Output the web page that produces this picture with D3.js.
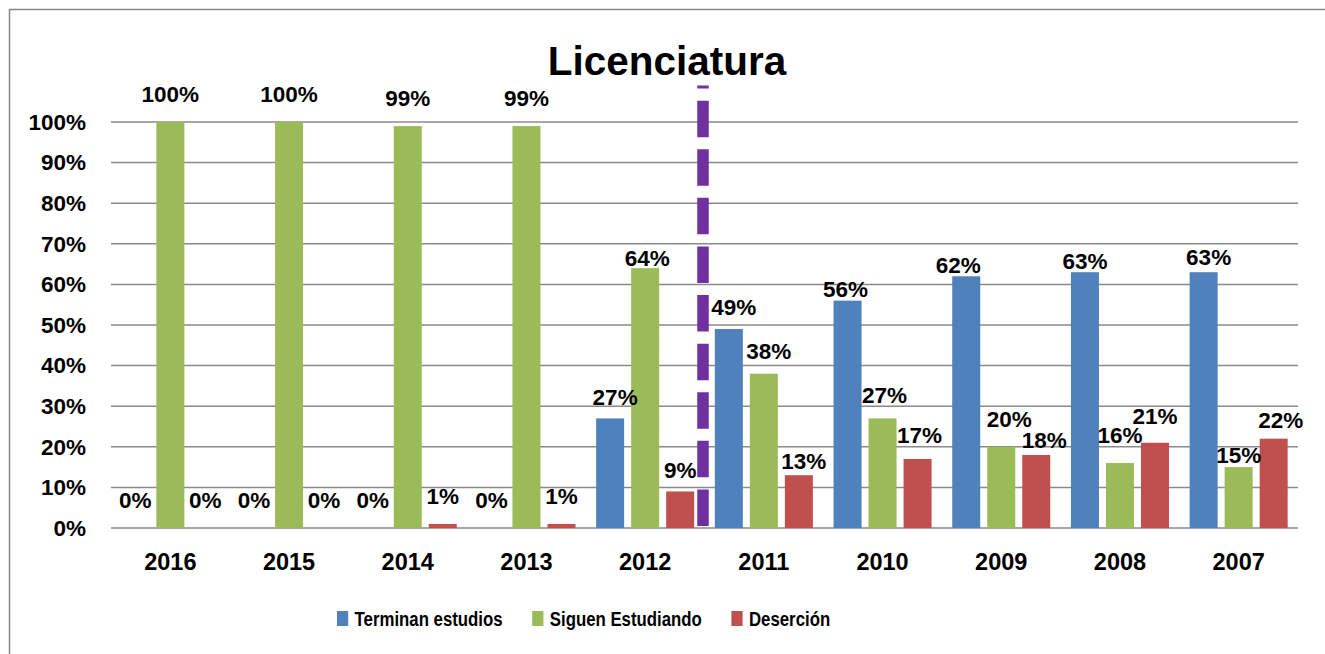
<!DOCTYPE html>
<html>
<head>
<meta charset="utf-8">
<script src="https://d3js.org/d3.v7.min.js"></script>
<style>
  body { margin: 0; background: #fff; }
  text { font-family: "Liberation Sans", Arial, sans-serif; font-weight: bold; fill: #000; }
</style>
</head>
<body>
<div id="chart"></div>
<script>
// data
var years = ["2016", "2015", "2014", "2013", "2012", "2011", "2010", "2009", "2008", "2007"];
var series = ["Terminan estudios", "Siguen Estudiando", "Deserción"];
var terminan = [0, 0, 0, 0, 27, 49, 56, 62, 63, 63];
var siguen = [100, 100, 99, 99, 64, 38, 27, 20, 16, 15];
var desercion = [0, 0, 1, 1, 9, 13, 17, 18, 21, 22];
var yTicks = [0, 10, 20, 30, 40, 50, 60, 70, 80, 90, 100];
var colors = ["#4F81BD", "#9BBB59", "#C0504D"];

// hand-placed label offsets in the original (dx, dy)
var nudge = [
  [[0,0],[0,0],[0,0],[0,0],[5,7],[5,6],[-2,16],[-8,17],[0,17],[5,13]],
  [[0,0],[0,0],[0,0],[0,0],[2,18],[5,5],[2,5],[8,0],[0,0],[0,16]],
  [[0,0],[0,0],[0,0],[0,0],[0,7],[5,14],[2,4],[8,13],[0,1],[7,9]]
];

var width = 1325, height = 654;
var svg = d3.select("#chart").append("svg")
  .attr("width", width)
  .attr("height", height);

// chart frame (runs off the right and bottom edge)
svg.append("rect")
  .attr("x", 9.5).attr("y", 9.5)
  .attr("width", 1330).attr("height", 660)
  .attr("fill", "none")
  .attr("stroke", "#888").attr("stroke-width", 1.5);

var x0 = d3.scaleBand().domain(years).range([111, 1298])
  .paddingInner(0.174).paddingOuter(0.087);
var x1 = d3.scaleBand().domain(series).range([0, x0.bandwidth()])
  .paddingInner(0.2).paddingOuter(0);
var y = d3.scaleLinear().domain([0, 100]).range([528, 122]);

// gridlines
svg.append("g").selectAll("line")
  .data(yTicks).enter().append("line")
  .attr("x1", 111).attr("x2", 1298)
  .attr("y1", function(d) { return y(d); })
  .attr("y2", function(d) { return y(d); })
  .attr("stroke", "#8a8a8a").attr("stroke-width", 1.5);

// y axis labels
var yAxis = svg.append("g")
  .attr("transform", "translate(111,0)")
  .call(d3.axisLeft(y).tickValues(yTicks).tickSize(0).tickPadding(25)
    .tickFormat(function(d) { return d + "%"; }));
yAxis.select(".domain").remove();
yAxis.selectAll("text")
  .attr("font-size", "22.5px")
  .style("font-family", "'Liberation Sans', Arial, sans-serif")
  .style("font-weight", "bold")
  .attr("fill", "#000");

// x axis labels
var xAxis = svg.append("g")
  .attr("transform", "translate(0,528)")
  .call(d3.axisBottom(x0).tickSize(0).tickPadding(25));
xAxis.select(".domain").remove();
xAxis.selectAll("text")
  .attr("font-size", "23.5px")
  .style("font-family", "'Liberation Sans', Arial, sans-serif")
  .style("font-weight", "bold")
  .attr("fill", "#000");

var seriesValues = [terminan, siguen, desercion];
var rows = [];
seriesValues.forEach(function(vals, si) {
  vals.forEach(function(v, i) {
    rows.push({ s: si, year: years[i], i: i, v: v });
  });
});

// bars
svg.append("g").selectAll("rect")
  .data(rows).enter().append("rect")
  .attr("x", function(d) { return x0(d.year) + x1(series[d.s]); })
  .attr("y", function(d) { return y(d.v); })
  .attr("width", x1.bandwidth())
  .attr("height", function(d) { return y(0) - y(d.v); })
  .attr("fill", function(d) { return colors[d.s]; });

// data labels
svg.append("g").selectAll("text")
  .data(rows).enter().append("text")
  .attr("x", function(d) { return x0(d.year) + x1(series[d.s]) + x1.bandwidth() / 2 + nudge[d.s][d.i][0]; })
  .attr("y", function(d) { return y(d.v) - 20 + nudge[d.s][d.i][1]; })
  .attr("text-anchor", "middle")
  .attr("font-size", "22.5px")
  .text(function(d) { return d.v + "%"; });

// dashed divider between 2012 and 2011, drawn from the bottom up
var divX = x0("2011") - x0.step() * x0.paddingInner() / 2 - 1.5;
svg.append("line")
  .attr("x1", divX).attr("x2", divX)
  .attr("y1", y(0.5)).attr("y2", y(109))
  .attr("stroke", "#7030A0")
  .attr("stroke-width", 11.5)
  .attr("stroke-dasharray", "36.5,12.1");

// title
svg.append("text")
  .attr("x", 667).attr("y", 75)
  .attr("text-anchor", "middle")
  .attr("font-size", "40.5px")
  .text("Licenciatura");

// legend, squeezed sideways like the original
var legend = svg.append("g")
  .attr("transform", "translate(337,0) scale(0.8,1)");
var lx = 0;
series.forEach(function(name, i) {
  legend.append("rect")
    .attr("x", lx).attr("y", 611)
    .attr("width", 14).attr("height", 15)
    .attr("fill", colors[i]);
  var t = legend.append("text")
    .attr("x", lx + 22).attr("y", 626)
    .attr("font-size", "21px")
    .text(name);
  lx += 22 + t.node().getComputedTextLength() + 37;
});
</script>
</body>
</html>
